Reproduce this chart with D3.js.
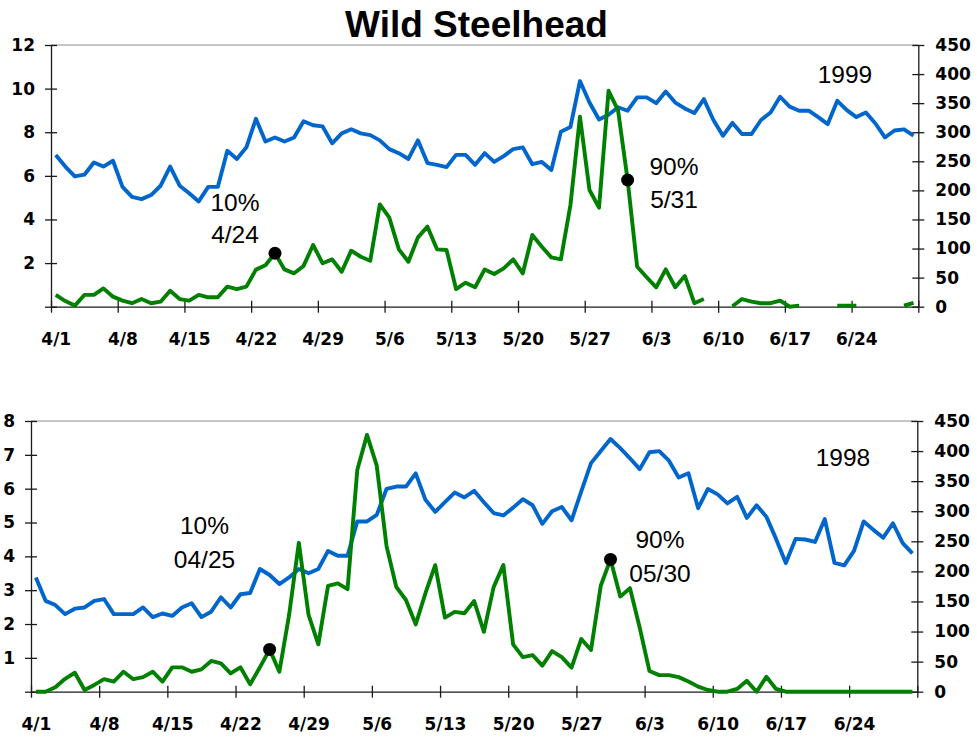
<!DOCTYPE html>
<html>
<head>
<meta charset="utf-8">
<script src="https://cdn.jsdelivr.net/npm/d3@7"></script>
<style>
body { margin: 0; background: #fff; }
.tick text { font-family: "DejaVu Sans", sans-serif; font-weight: bold; font-size: 17px; fill: #000; }
.note { font-family: "Liberation Sans", Arial, sans-serif; font-size: 24.5px; fill: #000; }
.title { font-family: "Liberation Sans", Arial, sans-serif; font-weight: bold; font-size: 37px; fill: #000; }
</style>
</head>
<body>
<script>
// one value per day, 4/1 .. 6/30 (91 days)
var dateTicks = ['4/1', '4/8', '4/15', '4/22', '4/29', '5/6', '5/13', '5/20', '5/27', '6/3', '6/10', '6/17', '6/24'];

// 1999 (top)
var blue1999 = [261, 241, 224, 227, 248, 241, 251, 206, 189, 185, 192, 208, 241, 208, 195, 181, 206, 206, 268, 254,
    274, 323, 284, 291, 284, 291, 319, 312, 310, 281, 298, 305, 298, 295, 286, 271, 264, 254, 286, 247,
    244, 240, 261, 261, 244, 264, 249, 259, 271, 274, 245, 249, 235, 301, 309, 388, 351, 322, 330, 343,
    337, 360, 360, 350, 370, 351, 341, 333, 357, 321, 294, 316, 297, 297, 321, 334, 361, 344, 337, 337,
    326, 314, 354, 338, 326, 334, 315, 291, 303, 305, 294];
var green1999 = [0.54, 0.26, 0.05, 0.54, 0.54, 0.84, 0.46, 0.28, 0.16, 0.35, 0.16, 0.23, 0.73, 0.35, 0.28, 0.54, 0.43, 0.43, 0.92, 0.81,
    0.92, 1.7, 1.9, 2.45, 1.71, 1.53, 1.87, 2.83, 1.99, 2.17, 1.6, 2.57, 2.29, 2.11, 4.69, 4.08, 2.63, 2.06, 3.18, 3.67,
    2.63, 2.6, 0.81, 1.1, 0.89, 1.71, 1.5, 1.76, 2.17, 1.53, 3.29, 2.75, 2.26, 2.17, 4.66, 8.71, 5.35, 4.54, 9.9, 9.0,
    5.81, 1.83, 1.35, 0.89, 1.71, 0.89, 1.41, 0.16, 0.35, null, null, 0.02, 0.35, 0.23, 0.16, 0.16, 0.28, 0, 0.05, null,
    null, null, 0.05, 0.05, 0.05, null, null, null, null, 0.05, 0.18];

// 1998 (bottom)
var blue1998 = [190, 151, 144, 129, 138, 140, 151, 154, 129, 129, 129, 140, 124, 130, 126, 140, 147, 124, 133, 157,
    140, 162, 164, 204, 194, 179, 190, 204, 197, 204, 234, 226, 226, 283, 283, 294, 337, 341, 341, 363,
    319, 299, 315, 331, 323, 334, 315, 297, 293, 306, 320, 310, 279, 300, 307, 285, 333, 380, 400, 420,
    405, 388, 370, 398, 400, 384, 356, 363, 305, 337, 328, 313, 324, 289, 310, 291, 254, 214, 254, 253,
    249, 287, 214, 210, 234, 283, 269, 256, 280, 247, 230];
var green1998 = [0, 0, 0.13, 0.38, 0.56, 0.05, 0.2, 0.37, 0.3, 0.59, 0.37, 0.43, 0.59, 0.3, 0.72, 0.72, 0.59, 0.66, 0.91, 0.84,
    0.54, 0.72, 0.22, 0.72, 1.25, 0.59, 2.27, 4.4, 2.27, 1.4, 3.13, 3.2, 3.03, 6.55, 7.59, 6.68, 4.31, 3.1, 2.71, 1.99,
    2.91, 3.74, 2.19, 2.36, 2.32, 2.68, 1.77, 3.09, 3.74, 1.4, 1.02, 1.08, 0.77, 1.2, 1.02, 0.71, 1.56, 1.23, 3.13, 3.91,
    2.81, 3.06, 1.89, 0.61, 0.49, 0.49, 0.43, 0.3, 0.15, 0.05, 0, 0, 0.08, 0.32, 0, 0.44, 0.08, 0, 0, 0,
    0, 0, 0, 0, 0, 0, 0, 0, 0, 0, 0];

var rightTicks = [0, 50, 100, 150, 200, 250, 300, 350, 400, 450];
var leftTicks1999 = [0, 2, 4, 6, 8, 10, 12];
var leftTicks1998 = [0, 1, 2, 3, 4, 5, 6, 7, 8];

var W = 977, H = 738;
var svg = d3.select('body').append('svg')
    .attr('width', W)
    .attr('height', H);

svg.append('text')
    .classed('title', true)
    .attr('x', 476.5)
    .attr('y', 37)
    .attr('text-anchor', 'middle')
    .text('Wild Steelhead');

var drawPanel = function(p) {
    var nDays = p.green.length;
    var x = d3.scaleLinear().domain([0, nDays]).range([p.left, p.right]);
    var band = x(1) - x(0);
    var yL = d3.scaleLinear().domain([0, p.leftMax]).range([p.bottom, p.top]);
    var yR = d3.scaleLinear().domain([0, 450]).range([p.bottom, p.top]);
    var g = svg.append('g');

    // gray line along the top of the plot
    g.append('line')
        .attr('x1', p.left).attr('x2', p.right)
        .attr('y1', p.top).attr('y2', p.top)
        .attr('stroke', '#8c8c8c')
        .attr('stroke-width', 1);

    var xAxis = d3.axisBottom(x)
        .tickValues(d3.range(0, nDays + 1, 7))
        .tickFormat(function(d) {
            return dateTicks[d / 7] || '';
        })
        .tickSize(6)
        .tickSizeOuter(0)
        .tickPadding(20);
    var xg = g.append('g')
        .attr('transform', 'translate(0,' + p.bottom + ')')
        .call(xAxis);
    xg.selectAll('.tick line').attr('y1', -6);
    xg.selectAll('.tick text').attr('dx', band / 2);

    var leftAxis = d3.axisLeft(yL)
        .tickValues(p.leftTicks)
        .tickFormat(function(d) { return d === 0 ? '' : d; })
        .tickSize(6)
        .tickSizeOuter(0)
        .tickPadding(10);
    var lg = g.append('g')
        .attr('transform', 'translate(' + p.left + ',0)')
        .call(leftAxis);
    lg.selectAll('.tick line').attr('x1', 6);

    var rightAxis = d3.axisRight(yR)
        .tickValues(rightTicks)
        .tickSize(6)
        .tickSizeOuter(0)
        .tickPadding(11);
    var rg = g.append('g')
        .attr('transform', 'translate(' + p.right + ',0)')
        .call(rightAxis);
    rg.selectAll('.tick line').attr('x1', -6);

    g.selectAll('.domain, .tick line')
        .attr('stroke', '#1a1a1a')
        .attr('stroke-width', 1.3);

    var blueLine = d3.line()
        .x(function(d, i) { return x(i + 0.5); })
        .y(function(d) { return yR(d); });
    var greenLine = d3.line()
        .defined(function(d) { return d !== null; })
        .x(function(d, i) { return x(i + 0.5); })
        .y(function(d) { return yL(d); });

    g.append('path')
        .datum(p.blue)
        .attr('d', blueLine)
        .attr('fill', 'none')
        .attr('stroke', '#0066cc')
        .attr('stroke-width', 3.9)
        .attr('stroke-linejoin', 'round');
    g.append('path')
        .datum(p.green)
        .attr('d', greenLine)
        .attr('fill', 'none')
        .attr('stroke', '#008000')
        .attr('stroke-width', 3.9)
        .attr('stroke-linejoin', 'round');

    g.selectAll('circle.mark')
        .data(p.marks)
        .enter()
        .append('circle')
        .classed('mark', true)
        .attr('cx', function(d) { return x(d + 0.5); })
        .attr('cy', function(d) { return yL(p.green[d]); })
        .attr('r', 6.5)
        .attr('fill', '#000');

    g.selectAll('text.note')
        .data(p.notes)
        .enter()
        .append('text')
        .classed('note', true)
        .attr('x', function(d) { return d.x; })
        .attr('y', function(d) { return d.y; })
        .attr('text-anchor', 'middle')
        .text(function(d) { return d.t; });
};

drawPanel({
    left: 51, right: 918.3, top: 45, bottom: 306.7,
    leftMax: 12, leftTicks: leftTicks1999,
    blue: blue1999, green: green1999,
    marks: [23, 60],
    notes: [
        {t: '10%', x: 235, y: 211},
        {t: '4/24', x: 235, y: 243},
        {t: '90%', x: 674, y: 175},
        {t: '5/31', x: 674, y: 208},
        {t: '1999', x: 845, y: 83}
    ]
});

drawPanel({
    left: 31, right: 917.3, top: 421, bottom: 691.7,
    leftMax: 8, leftTicks: leftTicks1998,
    blue: blue1998, green: green1998,
    marks: [24, 59],
    notes: [
        {t: '10%', x: 204.5, y: 534},
        {t: '04/25', x: 204.5, y: 568},
        {t: '90%', x: 660, y: 548},
        {t: '05/30', x: 660, y: 582},
        {t: '1998', x: 843, y: 466}
    ]
});
</script>
</body>
</html>
